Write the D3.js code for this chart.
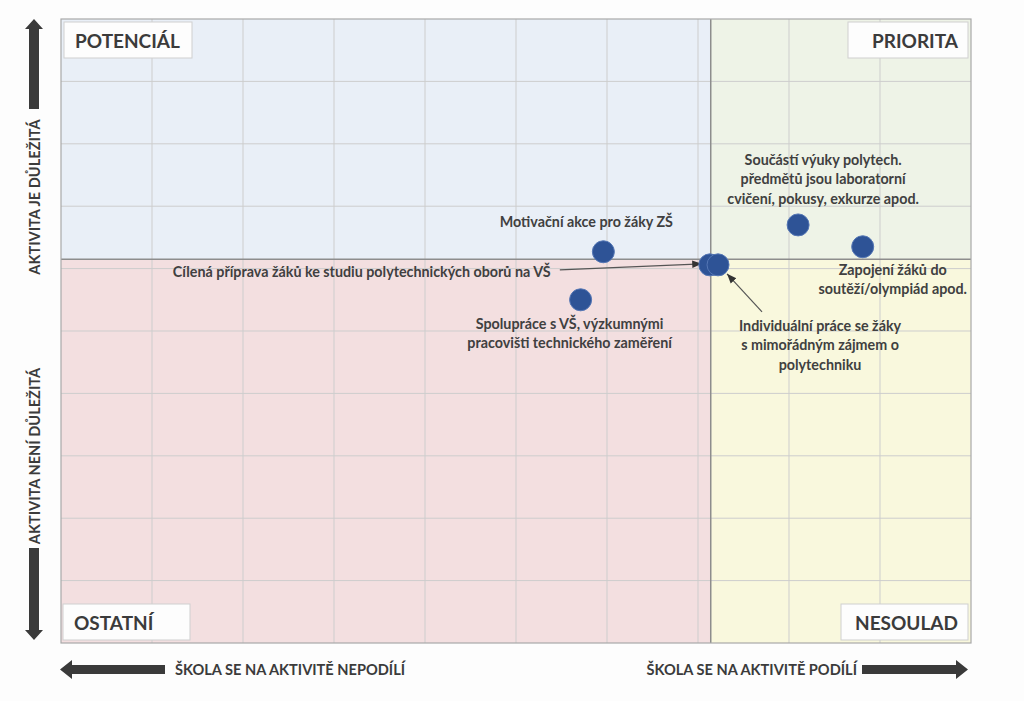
<!DOCTYPE html>
<html>
<head>
<meta charset="utf-8">
<script src="https://cdn.jsdelivr.net/npm/d3@7"></script>
<style>
  body { margin: 0; background: #fdfdfd; }
  svg text { font-family: Lato, "Open Sans", sans-serif; font-weight: bold; fill: #3b3b3b; }
  .grid line { stroke: #cdcdcd; stroke-width: 1; }
  .note { font-size: 14.3px; fill: #404040; }
</style>
</head>
<body>
<div id="vis"></div>
<script>
// activity names (one label per point, lines split with |)
var activities = [
  'Motivační akce pro žáky ZŠ',
  'Spolupráce s VŠ, výzkumnými|pracovišti technického zaměření',
  'Cílená příprava žáků ke studiu polytechnických oborů na VŠ',
  'Individuální práce se žáky|s mimořádným zájmem o|polytechniku',
  'Součástí výuky polytech.|předmětů jsou laboratorní|cvičení, pokusy, exkurze apod.',
  'Zapojení žáků do|soutěží/olympiád apod.'
];
// school participation (x) and importance (y)
var participation = [5.96, 5.71, 7.13, 7.22, 8.10, 8.81];
var importance = [6.27, 5.50, 6.06, 6.06, 6.70, 6.35];

// quadrant split
var splitX = 7.14;
var splitY = 6.15;

var quadrantNames = ['POTENCIÁL', 'PRIORITA', 'OSTATNÍ', 'NESOULAD'];
var axisTexts = ['AKTIVITA JE DŮLEŽITÁ', 'AKTIVITA NENÍ DŮLEŽITÁ',
                 'ŠKOLA SE NA AKTIVITĚ NEPODÍLÍ', 'ŠKOLA SE NA AKTIVITĚ PODÍLÍ'];

var width = 1024, height = 701;
var margin = { top: 19, left: 61, bottom: 58, right: 53 };
var w = width - margin.left - margin.right;
var h = height - margin.top - margin.bottom;

var x = d3.scaleLinear().domain([0, 10]).range([0, w]);
var y = d3.scaleLinear().domain([0, 10]).range([h, 0]);

var svg = d3.select('#vis').append('svg')
    .attr('width', width)
    .attr('height', height);

var defs = svg.append('defs');
defs.append('marker')
    .attr('id', 'head')
    .attr('viewBox', '0 0 10 10')
    .attr('refX', 10).attr('refY', 5)
    .attr('markerWidth', 8).attr('markerHeight', 8)
    .attr('orient', 'auto')
    .append('path')
    .attr('d', 'M0,1 L10,5 L0,9 Z')
    .attr('fill', '#333');

var g = svg.append('g')
    .attr('transform', 'translate(' + margin.left + ',' + margin.top + ')');

// quadrant backgrounds
var quads = [
  { x0: 0, x1: splitX, y0: splitY, y1: 10, fill: '#e9eff7' },
  { x0: splitX, x1: 10, y0: splitY, y1: 10, fill: '#eef3e7' },
  { x0: 0, x1: splitX, y0: 0, y1: splitY, fill: '#f3dfe0' },
  { x0: splitX, x1: 10, y0: 0, y1: splitY, fill: '#f9f8dd' }
];
g.selectAll('.quad').data(quads).enter().append('rect')
    .attr('class', 'quad')
    .attr('x', function (d) { return x(d.x0); })
    .attr('y', function (d) { return y(d.y1); })
    .attr('width', function (d) { return x(d.x1) - x(d.x0); })
    .attr('height', function (d) { return y(d.y0) - y(d.y1); })
    .attr('fill', function (d) { return d.fill; });

// grid
var grid = g.append('g').attr('class', 'grid');
grid.selectAll('.vx').data(d3.range(1, 10)).enter().append('line')
    .attr('x1', function (d) { return x(d); }).attr('x2', function (d) { return x(d); })
    .attr('y1', 0).attr('y2', h);
grid.selectAll('.hy').data(d3.range(1, 10)).enter().append('line')
    .attr('y1', function (d) { return y(d); }).attr('y2', function (d) { return y(d); })
    .attr('x1', 0).attr('x2', w);

// dividers
g.append('line')
    .attr('x1', x(splitX)).attr('x2', x(splitX)).attr('y1', 0).attr('y2', h)
    .attr('stroke', '#8d8d8d').attr('stroke-width', 1.5);
g.append('line')
    .attr('x1', 0).attr('x2', w).attr('y1', y(splitY)).attr('y2', y(splitY))
    .attr('stroke', '#8d8d8d').attr('stroke-width', 1.5);

// frame
g.append('rect')
    .attr('width', w).attr('height', h)
    .attr('fill', 'none').attr('stroke', '#a9a9a9').attr('stroke-width', 1.2);

// quadrant label boxes
var boxes = [
  { name: quadrantNames[0], x: 3, y: 3, w: 128, anchor: 'start' },
  { name: quadrantNames[1], x: w - 123, y: 3, w: 120, anchor: 'end' },
  { name: quadrantNames[2], x: 2, y: h - 39, w: 127, anchor: 'start' },
  { name: quadrantNames[3], x: w - 130, y: h - 39, w: 127, anchor: 'end' }
];
var box = g.selectAll('.qbox').data(boxes).enter().append('g')
    .attr('class', 'qbox')
    .attr('transform', function (d) { return 'translate(' + d.x + ',' + d.y + ')'; });
box.append('rect')
    .attr('width', function (d) { return d.w; })
    .attr('height', 36)
    .attr('fill', '#fdfdfd')
    .attr('stroke', '#cfcfcf');
box.append('text')
    .attr('x', function (d) { return d.anchor === 'start' ? 11 : d.w - 10; })
    .attr('y', 26)
    .attr('text-anchor', function (d) { return d.anchor; })
    .style('font-size', '19px')
    .text(function (d) { return d.name; });

// points
var points = activities.map(function (a, i) {
  return { name: a, px: participation[i], py: importance[i] };
});

// label placement relative to each point (pixels)
var labelLayout = [
  { dx: -17, dy: -25, anchor: 'middle' },
  { dx: -11, dy: 29, anchor: 'middle' },
  { dx: -537, dy: 12, anchor: 'start', arrow: [-150, 5, -8, -1] },
  { dx: 102, dy: 66, anchor: 'middle', arrow: [44, 47, 9, 9] },
  { dx: 25, dy: -60, anchor: 'middle' },
  { dx: 30, dy: 28, anchor: 'middle' }
];

// annotation arrows
points.forEach(function (d, i) {
  var l = labelLayout[i];
  if (!l.arrow) return;
  var cx = x(d.px), cy = y(d.py);
  g.append('line')
    .attr('x1', cx + l.arrow[0]).attr('y1', cy + l.arrow[1])
    .attr('x2', cx + l.arrow[2]).attr('y2', cy + l.arrow[3])
    .attr('stroke', '#555').attr('stroke-width', 1.2)
    .attr('marker-end', 'url(#head)');
});

g.selectAll('.dot').data(points).enter().append('circle')
    .attr('class', 'dot')
    .attr('cx', function (d) { return x(d.px); })
    .attr('cy', function (d) { return y(d.py); })
    .attr('r', 11)
    .attr('fill', '#2e5396')
    .attr('stroke', '#5577b5')
    .attr('stroke-width', 1);

g.selectAll('.note').data(points).enter().append('text')
    .attr('class', 'note')
    .attr('text-anchor', function (d, i) { return labelLayout[i].anchor; })
    .attr('transform', function (d, i) {
      return 'translate(' + (x(d.px) + labelLayout[i].dx) + ',' + (y(d.py) + labelLayout[i].dy) + ')';
    })
    .each(function (d) {
      var t = d3.select(this);
      d.name.split('|').forEach(function (line, k) {
        t.append('tspan').attr('x', 0).attr('dy', k === 0 ? 0 : 19.5).text(line);
      });
    });

// axis arrows outside the plot
var ax = svg.append('g');
var dark = '#3a3a3a';
// up arrow
ax.append('path')
    .attr('d', 'M29,109 L29,29 L25,29 L34,19 L43,29 L39,29 L39,109 Z')
    .attr('fill', dark);
// down arrow
ax.append('path')
    .attr('d', 'M29,548 L29,630 L25,630 L34,640 L43,630 L39,630 L39,548 Z')
    .attr('fill', dark);
// left arrow
ax.append('path')
    .attr('d', 'M165,665 L72,665 L72,660 L60,669.5 L72,679 L72,674 L165,674 Z')
    .attr('fill', dark);
// right arrow
ax.append('path')
    .attr('d', 'M862,665 L956,665 L956,660 L968,669.5 L956,679 L956,674 L862,674 Z')
    .attr('fill', dark);

ax.append('text')
    .attr('transform', 'translate(40,197) rotate(-90)')
    .attr('text-anchor', 'middle')
    .style('font-size', '14.6px')
    .text(axisTexts[0]);
ax.append('text')
    .attr('transform', 'translate(40,456) rotate(-90)')
    .attr('text-anchor', 'middle')
    .style('font-size', '14.6px')
    .text(axisTexts[1]);
ax.append('text')
    .attr('x', 175).attr('y', 675)
    .style('font-size', '14.6px')
    .text(axisTexts[2]);
ax.append('text')
    .attr('x', 857).attr('y', 675)
    .attr('text-anchor', 'end')
    .style('font-size', '14.6px')
    .text(axisTexts[3]);
</script>
</body>
</html>
